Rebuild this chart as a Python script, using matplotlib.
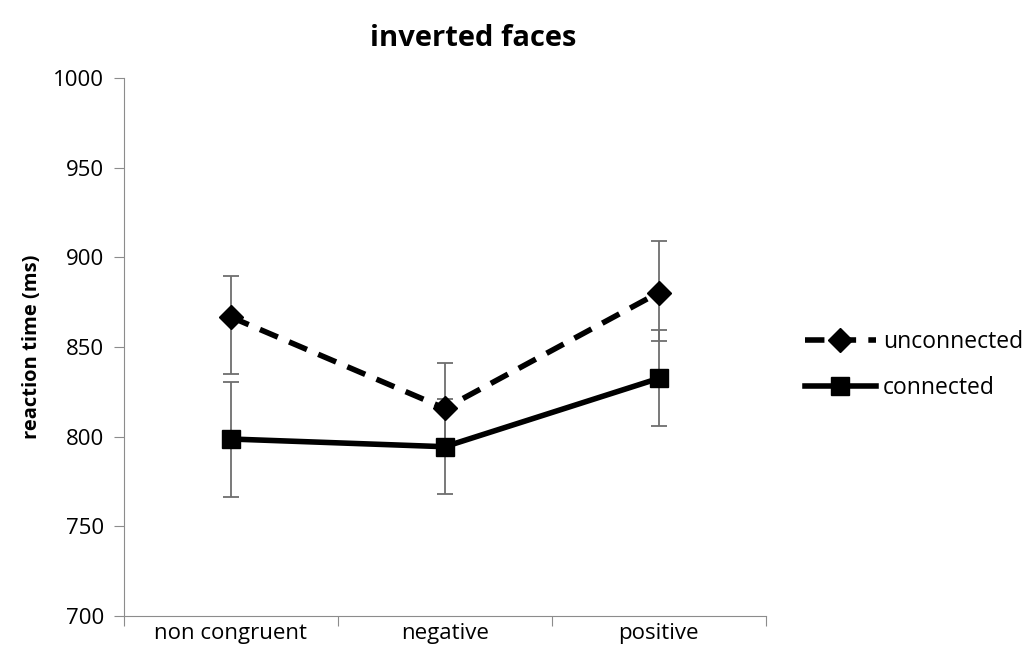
import numpy as np
import matplotlib.pyplot as plt

plt.rcParams['font.family'] = ['Open Sans', 'DejaVu Sans']

conditions = ["non congruent", "negative", "positive"]
unconnected = [866.7, 815.8, 880.3]
unconnected_lo = [834.9, 790.4, 853.5]
unconnected_hi = [889.6, 841.2, 909.2]
connected = [798.7, 794.4, 832.5]
connected_lo = [766.4, 768.0, 806.0]
connected_hi = [830.5, 821.2, 859.5]

x = np.arange(len(conditions))

fig = plt.figure(figsize=(10.32, 6.66), dpi=100)
ax = fig.add_axes([0.120, 0.075, 0.622, 0.808])

u = np.array(unconnected)
c = np.array(connected)
uerr = [u - np.array(unconnected_lo), np.array(unconnected_hi) - u]
cerr = [c - np.array(connected_lo), np.array(connected_hi) - c]

ax.errorbar(x, u, yerr=uerr, fmt='none', ecolor='#6e6e6e', elinewidth=1.3, capsize=6, capthick=1.3, zorder=2)
ax.errorbar(x, c, yerr=cerr, fmt='none', ecolor='#6e6e6e', elinewidth=1.3, capsize=6, capthick=1.3, zorder=2)
ax.plot(x, u, color='black', linestyle=(0, (3.5, 2.2)), lw=4, marker='D', markersize=12,
        label='unconnected', zorder=3)
ax.plot(x, c, color='black', linestyle='-', lw=4, marker='s', markersize=13.5,
        label='connected', zorder=3)

ax.set_xlim(-0.5, 2.5)
ax.set_ylim(700, 1000)
ax.set_yticks(np.arange(700, 1001, 50))
ax.set_xticks([-0.5, 0.5, 1.5, 2.5])
ax.set_xticklabels([])
ax.set_xticks(x, minor=True)
ax.set_xticklabels(conditions, minor=True, fontsize=16)
ax.tick_params(axis='x', which='minor', length=0, pad=5)
ax.tick_params(axis='x', which='major', length=7, color='#8c8c8c', direction='out')
ax.tick_params(axis='y', length=7, color='#8c8c8c', direction='out', labelsize=16, pad=7)

for s in ['top', 'right']:
    ax.spines[s].set_visible(False)
ax.spines['left'].set_color('#8c8c8c')
ax.spines['bottom'].set_color('#8c8c8c')

ax.set_ylabel('reaction time (ms)', fontsize=14.5, fontweight='bold', labelpad=8)
fig.text(473 / 1032, 1 - 38 / 666, 'inverted faces', fontsize=21, fontweight='bold',
         ha='center', va='center')

ax.legend(loc='center left', bbox_to_anchor=(1.061, 0.466), frameon=False, fontsize=16.5,
          handlelength=3.1, labelspacing=0.95, handletextpad=0.3, borderpad=0, borderaxespad=0)

plt.savefig('out.png', dpi=100)
